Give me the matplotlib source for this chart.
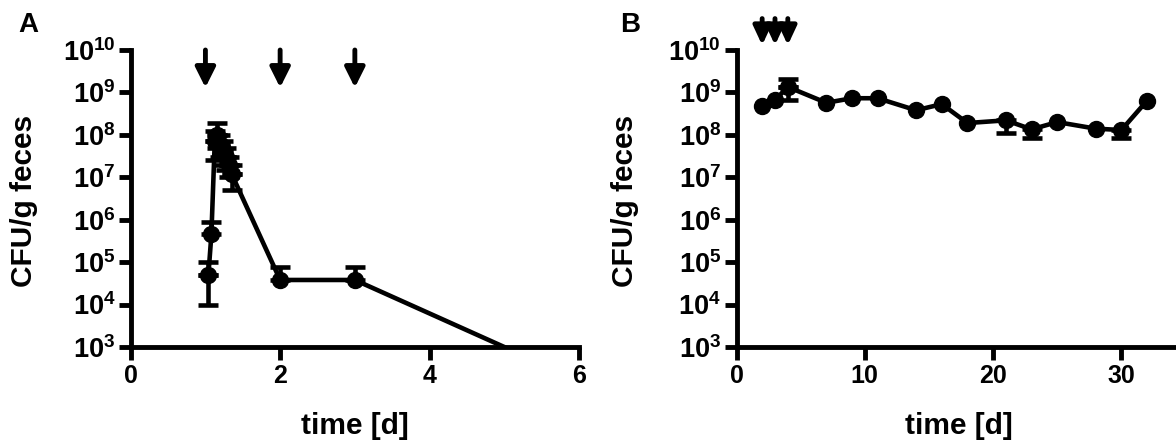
import numpy as np
import matplotlib
matplotlib.use('Agg')
import matplotlib.pyplot as plt

plt.rcParams['font.family'] = ['Liberation Sans', 'DejaVu Sans']
plt.rcParams['font.weight'] = 'bold'
plt.rcParams['mathtext.fontset'] = 'custom'
plt.rcParams['mathtext.rm'] = 'Liberation Sans:bold'
plt.rcParams['mathtext.bf'] = 'Liberation Sans:bold'

nan = np.nan

# panel A: first days after dosing
time_a = [1.04, 1.08, 1.125, 1.15, 1.19, 1.23, 1.27, 1.31, 1.35, 2, 3, 5]
cfu_a = [5e4, 4.5e5, 7e7, 1.0e8, 6e7, 4.5e7, 3e7, 2e7, 1.2e7, 3.8e4, 3.8e4, 1e3]
low_a = [1e4, nan, 2.5e7, 5e7, 3e7, 2e7, 1.5e7, 1e7, 5e6, nan, nan, nan]
high_a = [1e5, 9e5, 1.2e8, 1.9e8, 1e8, 7e7, 5e7, 3e7, 2e7, 7.5e4, 7.5e4, nan]
doses_a = [1, 2, 3]

# panel B: long-term colonisation
time_b = [2, 3, 4, 7, 9, 11, 14, 16, 18, 21, 23, 25, 28, 30, 32]
cfu_b = [4.8e8, 6.6e8, 1.35e9, 5.7e8, 7.3e8, 7.3e8, 3.8e8, 5.3e8, 1.9e8,
         2.2e8, 1.35e8, 2.0e8, 1.4e8, 1.3e8, 6.4e8]
low_b = [nan, nan, 6.6e8, nan, nan, nan, nan, nan, nan,
         1.1e8, 8.3e7, nan, nan, 8.3e7, nan]
high_b = [nan, nan, 2.1e9, nan, nan, nan, nan, nan, nan,
          nan, nan, nan, nan, nan, nan]
doses_b = [2, 3, 4]

W, H = 1176, 442
fig = plt.figure(figsize=(W / 100, H / 100), dpi=100)

ax_a = fig.add_axes([130.7 / W, (H - 347) / H, (579 - 130.7) / W, 297 / H])
ax_b = fig.add_axes([736.5 / W, (H - 347) / H, (W - 736.5) / W, 297 / H])


def draw(ax, t, y, lo, hi, last_marker=True):
    t = np.array(t, float)
    y = np.array(y, float)
    lo = np.array(lo, float)
    hi = np.array(hi, float)
    idx = list(range(len(t))) if last_marker else list(range(len(t) - 1))
    ax.plot(t, y, color='k', lw=3.3, marker='o', ms=11.5, markevery=idx,
            zorder=3, clip_on=True)
    m = ~np.isnan(lo)
    ax.errorbar(t[m], y[m], yerr=[y[m] - lo[m], np.zeros(m.sum())], fmt='none',
                ecolor='k', elinewidth=3.3, capsize=7.5, capthick=3.3, zorder=2)
    m = ~np.isnan(hi)
    ax.errorbar(t[m], y[m], yerr=[np.zeros(m.sum()), hi[m] - y[m]], fmt='none',
                ecolor='k', elinewidth=3.3, capsize=7.5, capthick=3.3, zorder=2)


draw(ax_a, time_a, cfu_a, low_a, high_a, last_marker=False)
draw(ax_b, time_b, cfu_b, low_b, high_b)

for ax in (ax_a, ax_b):
    ax.set_yscale('log')
    ax.set_ylim(1e3, 1e10)
    ax.set_yticks([10.0 ** k for k in range(3, 11)])
    ax.set_yticklabels([r'$\mathbf{10^{%d}}$' % k for k in range(3, 11)])
    ax.yaxis.set_minor_locator(matplotlib.ticker.NullLocator())
    for s in ('top', 'right'):
        ax.spines[s].set_visible(False)
    for s in ('left', 'bottom'):
        ax.spines[s].set_linewidth(3.5)
        ax.spines[s].set_capstyle('projecting')
    ax.tick_params(width=3.5, length=9, pad=3)
    ax.tick_params(axis='x', labelsize=18)
    ax.tick_params(axis='y', labelsize=19.5, pad=2)
    for lab in ax.get_xticklabels() + ax.get_yticklabels():
        lab.set_fontweight('bold')

ax_a.set_xlim(0, 6)
ax_a.set_xticks([0, 2, 4, 6])
ax_b.set_xlim(0, (W - 736.5) / 12.83)
ax_b.set_xticks([0, 10, 20, 30])

for d in doses_a:
    ax_a.annotate('', xy=(d, 1.3e9), xytext=(d, 1.0e10),
                  arrowprops=dict(arrowstyle='-|>,head_width=0.4,head_length=0.8',
                                  lw=3.5, color='k', mutation_scale=15,
                                  shrinkA=0, shrinkB=0))
for d in doses_b:
    ax_b.annotate('', xy=(d, 1.3e10), xytext=(d, 5.5e10), annotation_clip=False,
                  arrowprops=dict(arrowstyle='-|>,head_width=0.35,head_length=0.75',
                                  lw=3.5, color='k', mutation_scale=15,
                                  shrinkA=0, shrinkB=0))

fig.text(28 / W, 1 - 25 / H, 'A', fontsize=20, fontweight='bold',
         ha='center', va='center')
fig.text(630 / W, 1 - 25 / H, 'B', fontsize=20, fontweight='bold',
         ha='center', va='center')
for x in (24, 625):
    fig.text(x / W, 1 - 201 / H, 'CFU/g feces', fontsize=21.5, fontweight='bold',
             rotation=90, ha='center', va='center')
for x in (355, 959):
    fig.text(x / W, 1 - 426 / H, 'time [d]', fontsize=21.5, fontweight='bold',
             ha='center', va='center')

fig.savefig('out.png', dpi=100)
